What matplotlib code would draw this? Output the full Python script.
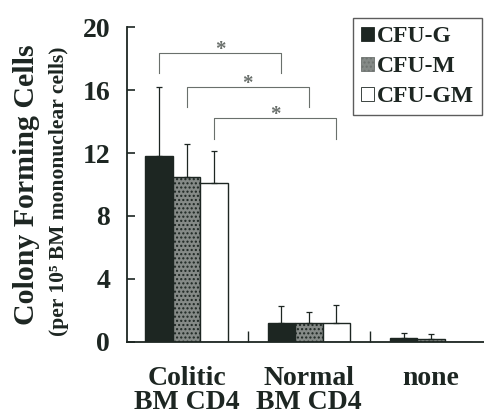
import numpy as np
import matplotlib.pyplot as plt
from matplotlib.patches import Patch

groups = ['Colitic\nBM CD4', 'Normal\nBM CD4', 'none']
series = ['CFU-G', 'CFU-M', 'CFU-GM']
cfu_g = [11.8, 1.2, 0.25]
cfu_m = [10.5, 1.2, 0.2]
cfu_gm = [10.1, 1.2, 0.0]
err_g = [4.4, 1.1, 0.35]
err_m = [2.1, 0.7, 0.3]
err_gm = [2.0, 1.15, 0.0]

# significance brackets: (left group, left series, right group, right series, top, leg bottom)
brackets = [(0, 0, 1, 0, 18.35, 17.1),
            (0, 1, 1, 1, 16.2, 14.9),
            (0, 2, 1, 2, 14.2, 12.9)]

plt.rcParams['font.family'] = ['Liberation Serif', 'DejaVu Serif']
plt.rcParams['font.weight'] = 'bold'
plt.rcParams['hatch.color'] = '#b5b9b6'
ink = '#1d2622'

fig = plt.figure(figsize=(4.84, 4.16), dpi=100)
ax = fig.add_axes([0.262, 0.178, 0.76, 0.757])

x = np.arange(len(groups))
w = 0.225
colors = [ink, '#858a87', 'white']
vals = [cfu_g, cfu_m, cfu_gm]
errs = [err_g, err_m, err_gm]
for i in range(3):
    pos = x + (i - 1) * w
    ax.bar(pos, vals[i], w, color=colors[i], edgecolor=ink, linewidth=1.0,
           hatch='....' if i == 1 else None, zorder=2)
    mask = np.array(errs[i]) > 0
    ax.errorbar(pos[mask], np.array(vals[i])[mask],
                yerr=[np.zeros(mask.sum()), np.array(errs[i])[mask]],
                fmt='none', ecolor=ink, elinewidth=0.9, capsize=2.5, capthick=0.9, zorder=3)

for g1, s1, g2, s2, top, bot in brackets:
    x1 = g1 + (s1 - 1) * w
    x2 = g2 + (s2 - 1) * w
    ax.plot([x1, x1, x2, x2], [bot, top, top, bot], color='#6a706c', linewidth=0.8)
    ax.text((x1 + x2) / 2, top - 0.45, '*', ha='center', va='bottom',
            fontsize=15, color='#6a706c')

ax.set_xlim(-0.49, 2.52)
ax.set_ylim(0, 20)
ax.set_yticks([0, 4, 8, 12, 16, 20])
ax.set_xticks(x)
ax.set_xticklabels(groups, fontsize=20, fontweight='bold', color=ink, linespacing=0.95)
ax.set_xticks([0.5, 1.5, 2.5], minor=True)
ax.tick_params(axis='x', which='major', length=0, pad=17)
ax.tick_params(axis='x', which='minor', direction='in', length=8, width=1.0, color=ink)
ax.tick_params(axis='y', direction='in', length=6, width=1.2, color=ink,
               labelsize=20, labelcolor=ink, pad=12)
for lab in ax.get_yticklabels():
    lab.set_fontweight('bold')
for s in ['top', 'right']:
    ax.spines[s].set_visible(False)
for s in ['left', 'bottom']:
    ax.spines[s].set_color(ink)
    ax.spines[s].set_linewidth(1.3)

fig.text(0.055, 0.555, 'Colony Forming Cells', rotation=90, ha='center', va='center',
         fontsize=21.5, fontweight='bold', color=ink)
fig.text(0.122, 0.54, '(per 10\u2075 BM mononuclear cells)', rotation=90,
         ha='center', va='center', fontsize=15.5, fontweight='bold', color=ink)

handles = [Patch(facecolor=colors[i], edgecolor=ink if i != 1 else '#6d726f', linewidth=0.6,
                 hatch='....' if i == 1 else None) for i in range(3)]
leg = fig.legend(handles, series, loc='upper left', bbox_to_anchor=(0.729, 0.957),
                 frameon=True, fancybox=False, edgecolor='#333', fontsize=17,
                 handlelength=0.55, handleheight=0.55, handletextpad=0.1,
                 borderpad=0.35, labelspacing=0.38, borderaxespad=0)
leg.get_frame().set_linewidth(1.0)
for t in leg.get_texts():
    t.set_color(ink)
    t.set_fontweight('bold')

fig.savefig('out.png', dpi=100)
